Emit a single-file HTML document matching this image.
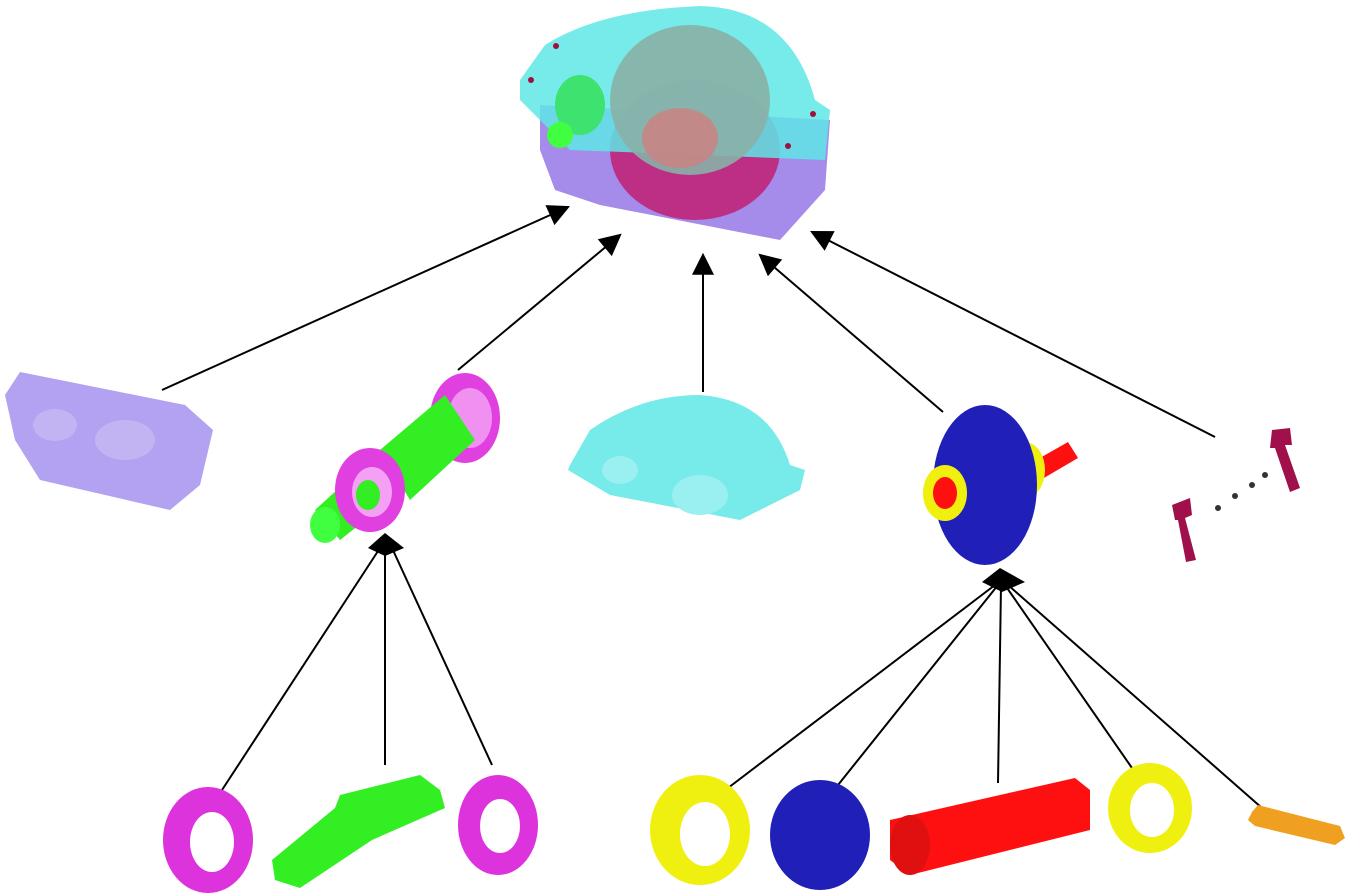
<!DOCTYPE html>
<html><head><meta charset="utf-8"><style>html,body{margin:0;padding:0;background:#fff}svg{display:block}</style></head>
<body>
<svg width="1351" height="896" viewBox="0 0 1351 896" xmlns="http://www.w3.org/2000/svg">
<defs>
<marker id="a" viewBox="0 0 10 10" refX="9" refY="5" markerWidth="9" markerHeight="9" markerUnits="userSpaceOnUse" orient="auto"><path d="M0,0 L10,5 L0,10 z"/></marker>
<marker id="ah" viewBox="0 0 10 10" refX="9" refY="5" markerWidth="26" markerHeight="22" markerUnits="userSpaceOnUse" orient="auto"><path d="M0,0 L10,5 L0,10 z"/></marker>
</defs>
<!-- arrows -->
<g stroke="#000" stroke-width="2" fill="none">
<line x1="162" y1="390" x2="568" y2="207" marker-end="url(#ah)"/>
<line x1="458" y1="370" x2="620" y2="235" marker-end="url(#ah)"/>
<line x1="703" y1="392" x2="703" y2="255" marker-end="url(#ah)"/>
<line x1="943" y1="412" x2="760" y2="255" marker-end="url(#ah)"/>
<line x1="1215" y1="437" x2="812" y2="232" marker-end="url(#ah)"/>
<line x1="222" y1="790" x2="380" y2="548"/>
<line x1="385" y1="765" x2="385" y2="548"/>
<line x1="492" y1="765" x2="392" y2="548"/>
<line x1="728" y1="788" x2="995" y2="585"/>
<line x1="838" y1="785" x2="998" y2="585"/>
<line x1="998" y1="783" x2="1001" y2="585"/>
<line x1="1132" y1="768" x2="1005" y2="585"/>
<line x1="1262" y1="808" x2="1008" y2="585"/>
</g>
<polygon points="368,548 385,533 404,548 385,556" fill="#000"/>
<polygon points="982,582 1000,568 1025,582 1002,592" fill="#000"/>

<!-- top gearbox -->
<path d="M540,105 L830,120 L825,190 L780,240 L600,205 L555,190 L540,150 Z" fill="#9b7ee8" opacity="0.9"/>
<ellipse cx="695" cy="150" rx="85" ry="70" fill="#c2186b" opacity="0.8"/>
<path d="M520,80 L545,45 Q600,10 700,6 Q790,8 815,100 L830,110 L825,160 L700,155 L570,150 L520,100 Z" fill="#5fe6e6" opacity="0.85"/>
<ellipse cx="690" cy="100" rx="80" ry="75" fill="#88b0a6" opacity="0.9"/>
<ellipse cx="680" cy="138" rx="38" ry="30" fill="#d08080" opacity="0.8"/>
<ellipse cx="580" cy="105" rx="25" ry="30" fill="#3ee26e"/>
<ellipse cx="560" cy="135" rx="13" ry="13" fill="#40ff40"/>
<g fill="#a0103c"><circle cx="556" cy="46" r="3"/><circle cx="531" cy="80" r="3"/><circle cx="813" cy="114" r="3"/><circle cx="788" cy="146" r="3"/></g>

<!-- left housing -->
<path d="M5,395 L20,372 L185,405 L213,430 L200,485 L170,510 L40,480 L15,440 Z" fill="#a690ef" opacity="0.85"/>
<ellipse cx="55" cy="425" rx="22" ry="16" fill="#c2b4f3"/>
<ellipse cx="125" cy="440" rx="30" ry="20" fill="#c2b4f3"/>

<!-- green shaft assembly -->
<ellipse cx="465" cy="418" rx="35" ry="45" fill="#e040e0"/>
<ellipse cx="470" cy="418" rx="22" ry="30" fill="#f090f0"/>
<polygon points="380,450 445,395 475,440 410,500" fill="#33ee22"/>
<polygon points="315,510 350,478 378,510 340,540" fill="#33ee22"/>
<ellipse cx="325" cy="525" rx="15" ry="18" fill="#40ff40"/>
<ellipse cx="370" cy="490" rx="35" ry="42" fill="#e040e0"/>
<ellipse cx="372" cy="492" rx="20" ry="25" fill="#f4a0f4"/>
<ellipse cx="368" cy="495" rx="12" ry="15" fill="#33ee22"/>

<!-- cyan cover -->
<path d="M570,465 L590,430 Q640,395 700,395 Q770,400 790,465 L805,470 L800,490 L740,520 L610,495 L568,470 Z" fill="#5fe6e6" opacity="0.85"/>
<ellipse cx="700" cy="495" rx="28" ry="20" fill="#9af0f0"/>
<ellipse cx="620" cy="470" rx="18" ry="14" fill="#9af0f0"/>

<!-- blue gear assembly -->
<polygon points="1010,475 1068,442 1078,458 1020,492" fill="#ff1010"/>
<ellipse cx="1025" cy="470" rx="20" ry="28" fill="#f0f010"/>
<ellipse cx="985" cy="485" rx="52" ry="80" fill="#2020b8"/>
<ellipse cx="945" cy="493" rx="22" ry="28" fill="#f0f010"/>
<ellipse cx="945" cy="493" rx="12" ry="16" fill="#ff1010"/>

<!-- bolts -->
<g fill="#a0104a">
<polygon points="1272,430 1290,428 1292,445 1285,445 1300,488 1290,492 1275,448 1270,448"/>
<polygon points="1172,505 1190,498 1192,515 1185,518 1196,560 1186,562 1178,520 1175,520"/>
</g>
<g fill="#333"><circle cx="1218" cy="508" r="3"/><circle cx="1235" cy="496" r="3"/><circle cx="1252" cy="485" r="3"/><circle cx="1265" cy="475" r="3"/></g>

<!-- bottom parts -->
<ellipse cx="208" cy="840" rx="45" ry="53" fill="#dd33dd"/>
<ellipse cx="212" cy="842" rx="22" ry="30" fill="#fff"/>
<ellipse cx="498" cy="825" rx="40" ry="50" fill="#dd33dd"/>
<ellipse cx="500" cy="826" rx="20" ry="27" fill="#fff"/>
<polygon points="272,860 335,808 340,795 420,775 440,790 445,808 372,840 300,888 275,880" fill="#33ee22"/>
<ellipse cx="700" cy="830" rx="50" ry="55" fill="#f0f010"/>
<ellipse cx="705" cy="834" rx="25" ry="32" fill="#fff"/>
<ellipse cx="820" cy="835" rx="50" ry="55" fill="#2020b8"/>
<polygon points="890,820 1075,778 1090,790 1090,830 910,875 890,860" fill="#ff1010"/>
<ellipse cx="910" cy="845" rx="20" ry="30" fill="#e01010"/>
<ellipse cx="1150" cy="808" rx="42" ry="45" fill="#f0f010"/>
<ellipse cx="1152" cy="810" rx="22" ry="27" fill="#fff"/>
<polygon points="1252,812 1258,805 1340,826 1345,838 1335,845 1255,826 1248,820" fill="#f0a020"/>
</svg>
</body></html>
